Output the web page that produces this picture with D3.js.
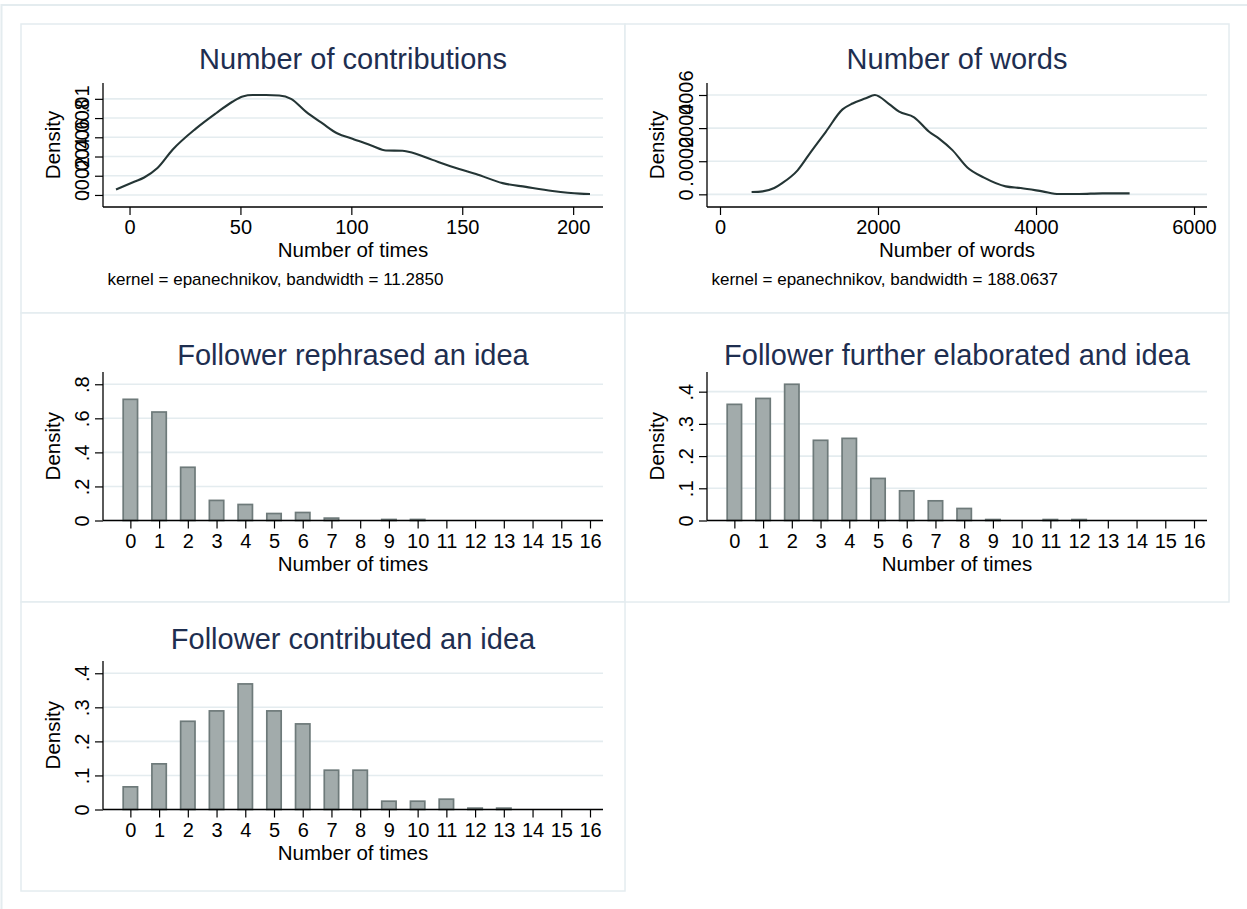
<!DOCTYPE html>
<html>
<head>
<meta charset="utf-8">
<script src="https://cdn.jsdelivr.net/npm/d3@7"></script>
<style>
  body { margin: 0; background: #fff; }
  svg { display: block; }
  text { font-family: "Liberation Sans", Arial, Helvetica, sans-serif; }
</style>
</head>
<body>
<svg id="chart" width="1247" height="909"></svg>
<script>
// ---- Kernel density: number of contributions ----
const contribX = [-6.1, 2.1, 6.6, 12.6, 19.4, 29.9, 39, 46.4, 51, 55.5, 61.5, 67.5, 72.8, 79.5, 87, 93.8,
                  100.5, 109.6, 115.6, 123.1, 127.6, 136.6, 148.6, 156.2, 168.2, 178.7, 190.7, 203, 207.6];
const contribY = [0.00056, 0.00137, 0.00182, 0.0028, 0.0047, 0.0069, 0.0085, 0.0097, 0.01025, 0.0104, 0.0104,
                  0.01035, 0.0100, 0.00867, 0.00744, 0.00639, 0.00586, 0.00509, 0.00463, 0.0046, 0.00439,
                  0.00365, 0.0027, 0.00218, 0.00123, 0.00084, 0.00042, 0.00014, 0.0001];
const contribXTicks = [0, 50, 100, 150, 200];
const contribYTicks = [0, 0.002, 0.004, 0.006, 0.008, 0.01];

// ---- Kernel density: number of words ----
const wordsX = [400, 540, 687, 792, 982, 1151, 1340, 1551, 1678, 1846, 1960, 2141, 2268, 2457, 2647, 2773,
                2942, 3131, 3342, 3616, 3806, 4080, 4291, 4544, 4839, 5185];
const wordsY = [0.000014, 0.000018, 0.000038, 0.000069, 0.000145, 0.000257, 0.000378, 0.000513, 0.000549,
                0.00058, 0.0006, 0.000545, 0.000499, 0.000465, 0.000378, 0.000337, 0.000267, 0.000162,
                0.000101, 0.000048, 0.000038, 0.000018, 0.000002, 0.000002, 0.000006, 0.000006];
const wordsXTicks = [0, 2000, 4000, 6000];
const wordsYTicks = [0, 0.0002, 0.0004, 0.0006];

// ---- Histograms (density by number of times) ----
const times = [0, 1, 2, 3, 4, 5, 6, 7, 8, 9, 10, 11, 12, 13, 14, 15, 16];
const rephrased   = [0.7115, 0.637, 0.3125, 0.118, 0.094, 0.041, 0.047, 0.014, 0, 0.006, 0.006, 0, 0, 0, 0, 0, 0];
const elaborated  = [0.3606, 0.379, 0.423, 0.249, 0.255, 0.1306, 0.0922, 0.0611, 0.0373, 0.003, 0, 0.003, 0.003, 0, 0, 0, 0];
const contributed = [0.0665, 0.134, 0.259, 0.2895, 0.3687, 0.2895, 0.2513, 0.1154, 0.1154, 0.0244, 0.0244, 0.0303, 0.004, 0.004, 0, 0, 0];
const rephrasedYTicks = [0, 0.2, 0.4, 0.6, 0.8];
const elaboratedYTicks = [0, 0.1, 0.2, 0.3, 0.4];
const contributedYTicks = [0, 0.1, 0.2, 0.3, 0.4];

const titles = ["Number of contributions", "Number of words", "Follower rephrased an idea",
                "Follower further elaborated and idea", "Follower contributed an idea"];
const notes = ["kernel = epanechnikov, bandwidth = 11.2850", "kernel = epanechnikov, bandwidth = 188.0637"];

// ---- Style ----
const titleColor = "#1e2e50";
const gridColor = "#e4ecef";
const frameColor = "#e4ecef";
const lineColor = "#243535";
const barFill = "#a2abab";
const barStroke = "#6e7a7a";

const svg = d3.select("#chart");

// outer graph region
svg.append("rect")
  .attr("x", 1.5).attr("y", 5).attr("width", 1270).attr("height", 940)
  .attr("fill", "#fff").attr("stroke", frameColor).attr("stroke-width", 2);

const cellW = 604, cellH = 289, originX = 21, originY = 24;

const stataFmt = d => d === 0 ? "0" : String(d).replace(/^(-?)0\./, "$1.");

function drawPanel(p) {
  const g = svg.append("g")
    .attr("transform", `translate(${originX + p.col * cellW},${originY + p.row * cellH})`);

  g.append("rect")
    .attr("width", cellW).attr("height", cellH)
    .attr("fill", "#fff").attr("stroke", frameColor).attr("stroke-width", 1.5);

  const L = 82, R = 582, T = 59;
  const B = p.note ? 183 : 207.5;

  let x, y;
  if (p.kind === "kde") {
    const xs = p.xs;
    x = d3.scaleLinear()
      .domain([Math.min(d3.min(xs), d3.min(p.xTicks)), Math.max(d3.max(xs), d3.max(p.xTicks))])
      .range([L + 13, R - 13]);
    y = d3.scaleLinear().domain(d3.extent(p.ys)).range([B - 13, T + 12]);
  } else {
    x = d3.scaleLinear().domain([-0.5, d3.max(p.xTicks)]).range([L + 13, R - 13]);
    const top = Math.max(d3.max(p.yTicks), d3.max(p.ys)) * 1.09;
    y = d3.scaleLinear().domain([0, top]).range([B, T]);
  }

  // horizontal grid lines
  g.append("g").selectAll("line").data(p.yTicks).join("line")
    .attr("x1", L).attr("x2", R)
    .attr("y1", d => y(d)).attr("y2", d => y(d))
    .attr("stroke", gridColor).attr("stroke-width", 1.6);

  // marks
  if (p.kind === "kde") {
    const pts = p.xs.map((v, i) => [v, p.ys[i]]);
    g.append("path")
      .datum(pts)
      .attr("d", d3.line().x(d => x(d[0])).y(d => y(d[1])).curve(d3.curveMonotoneX))
      .attr("fill", "none").attr("stroke", lineColor).attr("stroke-width", 2.1)
      .attr("stroke-linejoin", "round");
  } else {
    const bars = p.xs.map((v, i) => ({ v, d: p.ys[i] })).filter(b => b.d > 0);
    g.append("g").selectAll("rect").data(bars).join("rect")
      .attr("x", b => x(b.v - 0.25))
      .attr("width", b => x(b.v + 0.25) - x(b.v - 0.25))
      .attr("y", b => y(b.d))
      .attr("height", b => y(0) - y(b.d))
      .attr("fill", barFill).attr("stroke", barStroke).attr("stroke-width", 1.7);
  }

  // y axis
  const yAxis = g.append("g").attr("transform", `translate(${L},0)`)
    .call(d3.axisLeft(y).tickValues(p.yTicks).tickSize(8).tickFormat(stataFmt));
  yAxis.select(".domain").remove();
  yAxis.selectAll(".tick line").attr("stroke", "#000").attr("stroke-width", 1.2);
  yAxis.selectAll(".tick text")
    .attr("x", null).attr("dy", null)
    .attr("text-anchor", "middle")
    .attr("transform", "translate(-14.5,0) rotate(-90)")
    .attr("fill", "#000").style("font-size", "20px");

  // x axis
  const xAxis = g.append("g").attr("transform", `translate(0,${B})`)
    .call(d3.axisBottom(x).tickValues(p.xTicks).tickSize(8).tickPadding(5).tickFormat(stataFmt));
  xAxis.select(".domain").remove();
  xAxis.selectAll(".tick line").attr("stroke", "#000").attr("stroke-width", 1.2);
  xAxis.selectAll(".tick text").attr("fill", "#000").style("font-size", "20px");

  // axis lines
  g.append("line").attr("x1", L).attr("x2", L).attr("y1", T).attr("y2", B)
    .attr("stroke", "#000").attr("stroke-width", 1.3);
  g.append("line").attr("x1", L).attr("x2", R).attr("y1", B).attr("y2", B)
    .attr("stroke", "#000").attr("stroke-width", 1.3);

  // titles
  g.append("text").attr("x", (L + R) / 2).attr("y", p.titleY)
    .attr("text-anchor", "middle").attr("fill", titleColor)
    .style("font-size", "29px").text(p.title);

  g.append("text")
    .attr("transform", `translate(${L - 43},${(T + B) / 2}) rotate(-90)`)
    .attr("text-anchor", "middle").attr("fill", "#000")
    .style("font-size", "20.5px").text("Density");

  g.append("text").attr("x", (L + R) / 2).attr("y", B + 50)
    .attr("text-anchor", "middle").attr("fill", "#000")
    .style("font-size", "20.5px").text(p.xlabel);

  if (p.note) {
    g.append("text").attr("x", L + 4.5).attr("y", B + 78)
      .attr("fill", "#000").style("font-size", "17px").text(p.note);
  }
}

const panels = [
  { row: 0, col: 0, kind: "kde", title: titles[0], titleY: 45, xlabel: "Number of times", note: notes[0],
    xs: contribX, ys: contribY, xTicks: contribXTicks, yTicks: contribYTicks },
  { row: 0, col: 1, kind: "kde", title: titles[1], titleY: 45, xlabel: "Number of words", note: notes[1],
    xs: wordsX, ys: wordsY, xTicks: wordsXTicks, yTicks: wordsYTicks },
  { row: 1, col: 0, kind: "hist", title: titles[2], titleY: 52, xlabel: "Number of times",
    xs: times, ys: rephrased, xTicks: times, yTicks: rephrasedYTicks },
  { row: 1, col: 1, kind: "hist", title: titles[3], titleY: 52, xlabel: "Number of times",
    xs: times, ys: elaborated, xTicks: times, yTicks: elaboratedYTicks },
  { row: 2, col: 0, kind: "hist", title: titles[4], titleY: 47, xlabel: "Number of times",
    xs: times, ys: contributed, xTicks: times, yTicks: contributedYTicks }
];

panels.forEach(drawPanel);
</script>
</body>
</html>
